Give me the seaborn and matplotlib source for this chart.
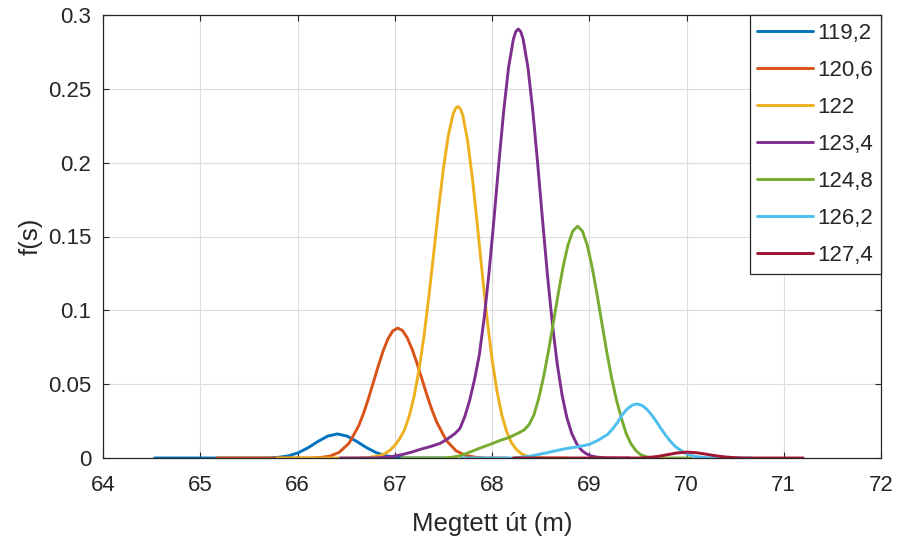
import numpy as np
import pandas as pd
import matplotlib
matplotlib.use("Agg")
import matplotlib.pyplot as plt
import seaborn as sns

# -----------------------------
# Data
# -----------------------------
labels = ["119,2", "120,6", "122", "123,4", "124,8", "126,2", "127,4"]
colors = ["#0072BD", "#D95319", "#EDB120", "#7E2F8E", "#77AC30", "#4DBEEE", "#A2142F"]

x_1192 = [64.53, 65.71, 65.81, 65.91, 66.01, 66.11, 66.21, 66.31, 66.41, 66.51,
          66.61, 66.71, 66.81, 66.91, 67.01, 67.11, 67.51]
y_1192 = [0, 0, 0.0005, 0.0015, 0.0036, 0.0070, 0.0112, 0.0148, 0.0163, 0.0148,
          0.0112, 0.0070, 0.0036, 0.0015, 0.0005, 0, 0]

x_1206 = [65.17, 66.13, 66.23, 66.33, 66.43, 66.53, 66.63, 66.68, 66.73, 66.78,
          66.83, 66.88, 66.93, 66.98, 67.03, 67.08, 67.13, 67.18, 67.23, 67.28,
          67.33, 67.38, 67.43, 67.53, 67.63, 67.73, 67.83, 67.93, 68.15]
y_1206 = [0, 0, 0.0003, 0.0012, 0.0039, 0.0100, 0.0219, 0.0304, 0.0403, 0.0512,
          0.0622, 0.0724, 0.0807, 0.0861, 0.0880, 0.0863, 0.0812, 0.0735, 0.0639, 0.0534,
          0.0428, 0.0330, 0.0245, 0.0119, 0.0049, 0.0017, 0.0005, 0, 0]

x_122 = [65.79, 66.55, 66.65, 66.75, 66.85, 66.90, 66.95, 67.00, 67.05, 67.10,
         67.15, 67.20, 67.25, 67.30, 67.35, 67.40, 67.45, 67.50, 67.55, 67.60,
         67.625, 67.65, 67.675, 67.70, 67.75, 67.80, 67.85, 67.90, 67.95, 68.00,
         68.05, 68.10, 68.15, 68.20, 68.25, 68.30, 68.35, 68.40, 68.45, 68.55, 68.77]
y_122 = [0, 0, 0.0001, 0.0005, 0.0017, 0.0030, 0.0052, 0.0085, 0.0130, 0.0190,
         0.0285, 0.0420, 0.0600, 0.0822, 0.1090, 0.1383, 0.1682, 0.1958, 0.2182, 0.2329,
         0.2367, 0.2380, 0.2365, 0.2319, 0.2146, 0.1886, 0.1574, 0.1248, 0.0939, 0.0671,
         0.0456, 0.0294, 0.0180, 0.0104, 0.0058, 0.0030, 0.0015, 0.0007, 0.0003, 0, 0]

x_1234 = [66.44, 66.77, 66.87, 66.97, 67.07, 67.17, 67.27, 67.37, 67.47, 67.52,
          67.57, 67.62, 67.67, 67.72, 67.77, 67.82, 67.87, 67.92, 67.97, 68.02,
          68.07, 68.12, 68.17, 68.22, 68.245, 68.27, 68.295, 68.32, 68.37, 68.42,
          68.47, 68.52, 68.57, 68.62, 68.67, 68.72, 68.77, 68.82, 68.87, 68.92,
          68.97, 69.02, 69.07, 69.17, 69.27, 69.42]
y_1234 = [0, 0, 0.0003, 0.0010, 0.0022, 0.0039, 0.0060, 0.0078, 0.0100, 0.0120,
          0.0142, 0.0166, 0.0200, 0.0280, 0.0390, 0.0530, 0.0700, 0.0950, 0.1260, 0.1615,
          0.1993, 0.2348, 0.2643, 0.2837, 0.2888, 0.2905, 0.2888, 0.2837, 0.2643, 0.2348,
          0.1991, 0.1609, 0.1241, 0.0913, 0.0640, 0.0428, 0.0273, 0.0166, 0.0097, 0.0053,
          0.0028, 0.0014, 0.0007, 0.0001, 0, 0]

x_1248 = [67.07, 67.48, 67.58, 67.68, 67.78, 67.88, 67.98, 68.08, 68.18, 68.28,
          68.33, 68.38, 68.43, 68.48, 68.53, 68.58, 68.63, 68.68, 68.73, 68.78,
          68.83, 68.88, 68.93, 68.98, 69.03, 69.08, 69.13, 69.18, 69.23, 69.28,
          69.33, 69.38, 69.43, 69.48, 69.53, 69.58, 69.63, 69.68, 69.78, 70.05]
y_1248 = [0, 0, 0.0004, 0.0016, 0.0042, 0.0068, 0.0092, 0.0118, 0.0140, 0.0172,
          0.0190, 0.0225, 0.0290, 0.0402, 0.0548, 0.0722, 0.0913, 0.1109, 0.1291, 0.1440,
          0.1536, 0.1570, 0.1536, 0.1440, 0.1291, 0.1109, 0.0913, 0.0719, 0.0542, 0.0392,
          0.0271, 0.0165, 0.0095, 0.0050, 0.0022, 0.0010, 0.0004, 0.0001, 0, 0]

x_1262 = [67.69, 68.22, 68.39, 68.56, 68.73, 68.90, 69.00, 69.09, 69.19, 69.24,
          69.29, 69.34, 69.39, 69.44, 69.49, 69.54, 69.59, 69.64, 69.69, 69.74,
          69.79, 69.84, 69.89, 69.99, 70.09, 70.19, 70.29, 70.67]
y_1262 = [0, 0, 0.0012, 0.0035, 0.0060, 0.0078, 0.0092, 0.0120, 0.0160, 0.0197,
          0.0240, 0.0293, 0.0332, 0.0357, 0.0366, 0.0357, 0.0332, 0.0293, 0.0247, 0.0197,
          0.0150, 0.0109, 0.0075, 0.0031, 0.0010, 0.0003, 0, 0]

x_1274 = [68.22, 69.50, 69.60, 69.70, 69.80, 69.90, 70.00, 70.10, 70.20, 70.30,
          70.40, 70.50, 70.60, 71.20]
y_1274 = [0, 0, 0.0003, 0.0010, 0.0022, 0.0034, 0.0040, 0.0036, 0.0026, 0.0015,
          0.0007, 0.0002, 0, 0]

xs = [x_1192, x_1206, x_122, x_1234, x_1248, x_1262, x_1274]
ys = [y_1192, y_1206, y_122, y_1234, y_1248, y_1262, y_1274]

df = pd.concat(
    [pd.DataFrame({"s": x, "f": y, "v": lab}) for x, y, lab in zip(xs, ys, labels)],
    ignore_index=True,
)

# -----------------------------
# Plot
# -----------------------------
sns.set_theme(style="white")
plt.rcParams["font.family"] = ["Liberation Sans", "DejaVu Sans"]

fig = plt.figure(figsize=(8.98, 5.4), dpi=100)
ax = fig.add_axes([103 / 898, 1 - 458 / 540, (881 - 103) / 898, (458 - 15) / 540])

sns.lineplot(data=df, x="s", y="f", hue="v", hue_order=labels, palette=colors,
             sort=False, estimator=None, linewidth=2.1, legend=False, ax=ax)

ax.set_xlim(64, 72)
ax.set_ylim(0, 0.3)
ax.set_xticks(range(64, 73))
ax.set_yticks([0, 0.05, 0.1, 0.15, 0.2, 0.25, 0.3])
ax.set_yticklabels(["0", "0.05", "0.1", "0.15", "0.2", "0.25", "0.3"])
ax.grid(True, color="#dcdcdc", linewidth=0.8)
ax.set_axisbelow(True)

for sp in ax.spines.values():
    sp.set_visible(True)
    sp.set_color("#262626")
    sp.set_linewidth(0.9)

ax.tick_params(direction="in", length=4, width=0.8, color="#262626",
               top=True, right=True, bottom=True, left=True,
               labelsize=16, labelcolor="#262626")
ax.tick_params(axis="x", pad=12)
ax.tick_params(axis="y", pad=8.5)

ax.set_xlabel("Megtett út (m)", fontsize=18.5, color="#262626", labelpad=12)
ax.set_ylabel("f(s)", fontsize=18.5, color="#262626", labelpad=4)

leg = ax.legend(handles=ax.lines[:len(labels)], labels=labels, loc="upper right",
                fontsize=16, frameon=True, fancybox=False, framealpha=1,
                edgecolor="#262626", borderaxespad=0, borderpad=0.35,
                handlelength=2.5, handletextpad=0.2, labelspacing=0.72)
leg.get_frame().set_linewidth(0.9)

fig.savefig("out.png", dpi=100)
